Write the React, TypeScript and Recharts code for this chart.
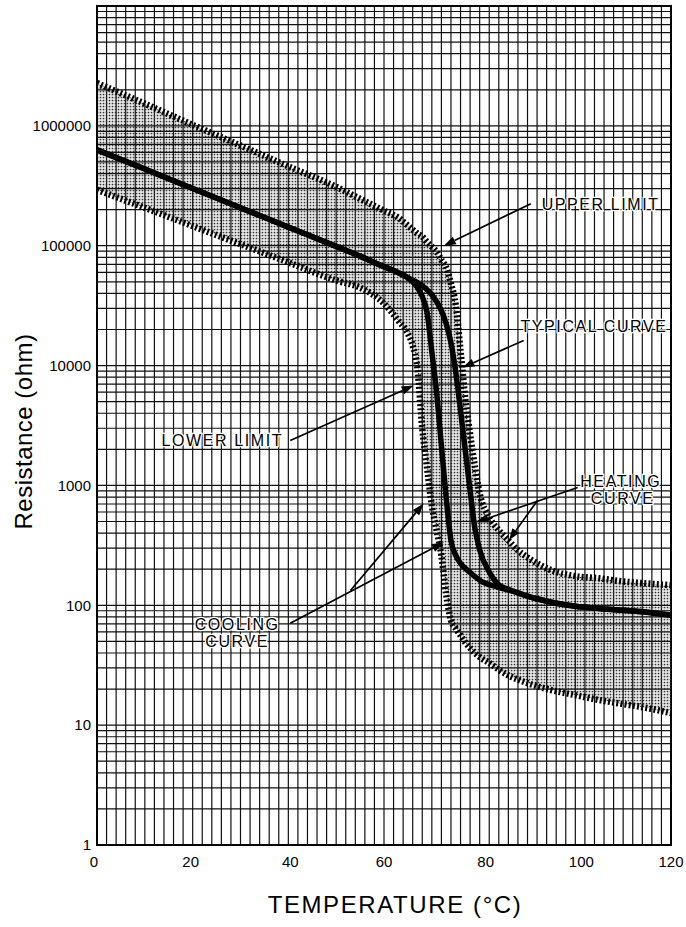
import {
  ComposedChart,
  Area,
  Line,
  XAxis,
  YAxis,
  CartesianGrid,
  ReferenceLine,
  ReferenceDot,
  ReferenceArea,
  Label,
} from "recharts";

// temperature samples (°C) where both limit curves were read
const bandTemps = [
  0, 10, 20, 30, 40, 50, 55, 60, 63, 65, 66, 67, 68, 69, 70, 71, 72, 73, 74,
  75, 76, 77, 78, 79, 80, 82, 84, 86, 88, 90, 95, 100, 105, 110, 115, 120,
];
const upperLimit = [
  2.28e6, 1.53e6, 1.02e6, 6.85e5, 4.59e5, 3.1e5, 2.46e5, 1.96e5, 1.71e5,
  1.47e5, 1.36e5, 1.26e5, 1.19e5, 1.07e5, 9.8e4, 8.9e4, 7.6e4, 6.6e4, 4.8e4,
  3.2e4, 1.33e4, 5300, 2660, 1440, 858, 541, 422, 348, 287, 251, 196, 175, 168,
  158, 152, 147,
];
const lowerLimit = [
  2.93e5, 2.07e5, 1.46e5, 1.03e5, 7.27e4, 5.13e4, 4.47e4, 3.29e4, 2.37e4,
  1.85e4, 1.47e4, 9440, 3000, 1410, 681, 422, 261, 123, 75, 64, 56, 49, 44, 40,
  37, 33, 29, 26, 24, 22.4, 19.6, 17.8, 16.2, 15, 13.9, 12.6,
];

// typical curve: shared part, cooling branch, heating branch, shared tail
const sharedLowT = [0, 10, 20, 30, 40, 50, 55, 60, 63, 65];
const sharedLowR = [6.3e5, 4.36e5, 3.0e5, 2.07e5, 1.43e5, 9.87e4, 8.19e4, 6.68e4, 5.96e4, 5.41e4];
const coolingT = [66, 67, 68, 69, 70, 71, 72, 73, 74, 75, 76, 78, 80, 84];
const coolingR = [5.0e4, 4.47e4, 3.76e4, 2.77e4, 1.3e4, 5960, 2150, 794, 348, 261, 224, 188, 162, 141];
const heatingT = [67, 68, 69, 70, 71, 72, 73, 74, 75, 76, 77, 78, 79, 80, 82, 84, 86];
const heatingR = [
  4.92e4, 4.64e4, 4.3e4, 3.9e4, 3.41e4, 2.87e4, 2.24e4, 1.55e4, 8770, 4220,
  1950, 908, 440, 290, 190, 148, 136,
];
const sharedHighT = [88, 90, 95, 100, 105, 110, 115, 120];
const sharedHighR = [127, 119, 106, 98, 94, 91, 87.5, 82.5];

// axes
const decades = [1, 10, 100, 1000, 10000, 100000, 1000000];
const minorSteps = [1, 2, 3, 4, 5, 6, 7, 8, 9];
const xLabels = [0, 20, 40, 60, 80, 100, 120];
const xLabelShift = [-3, -2, 2, 0, 6, 6, 0];
const xGridStep = 2;

// annotations: text [label, T, R] and arrows [fromT, fromR, toT, toR]
const noteTexts: [string, number, number][] = [
  ["UPPER LIMIT", 105.3, 2.2e5],
  ["TYPICAL CURVE", 103.9, 2.11e4],
  ["LOWER LIMIT", 26.2, 2370],
  ["HEATING", 109.5, 1080],
  ["CURVE", 109.9, 779],
  ["COOLING", 29.3, 69.5],
  ["CURVE", 29.3, 50],
];
const noteArrows: [number, number, number, number][] = [
  [90.7, 2.24e5, 72.5, 1.0e5],
  [89.2, 1.62e4, 76.4, 9620],
  [40.4, 2370, 66.2, 6810],
  [100.5, 962, 79.2, 492],
  [92.1, 750, 86.1, 348],
  [40.4, 70.8, 72.5, 335],
  [53.0, 133, 68.3, 708],
];

const zip = (ts: number[], rs: number[]) => ts.map((t, i) => ({ t, r: rs[i] }));

const bandData = bandTemps.map((t, i) => ({
  t,
  upper: upperLimit[i],
  lower: lowerLimit[i],
}));
const coolingData = [
  ...zip(sharedLowT, sharedLowR),
  ...zip(coolingT, coolingR),
  ...zip(sharedHighT, sharedHighR),
];
const heatingData = [
  ...zip(sharedLowT, sharedLowR),
  ...zip(heatingT, heatingR),
  ...zip(sharedHighT, sharedHighR),
];

const yGrid = [...decades.flatMap((d) => minorSteps.map((m) => m * d)), 1e7];
const xGrid = Array.from({ length: 120 / xGridStep + 1 }, (_, i) => i * xGridStep);

const FONT = "'Liberation Sans', Arial, Helvetica, sans-serif";

const XTick = (props: any) => {
  const { x, y, payload } = props;
  const idx = xLabels.indexOf(payload.value);
  if (idx < 0) return null;
  return (
    <text
      x={x + xLabelShift[idx]}
      y={y}
      dy="0.71em"
      textAnchor="middle"
      fontFamily={FONT}
      fontSize={15}
      fill="#000"
    >
      {payload.value}
    </text>
  );
};

const Arrow = (props: any) => {
  const { x1, y1, x2, y2 } = props;
  const a = Math.atan2(y2 - y1, x2 - x1);
  const len = 12;
  const w = 4.2;
  const bx = x2 - len * Math.cos(a);
  const by = y2 - len * Math.sin(a);
  const p1 = `${x2},${y2}`;
  const p2 = `${bx + w * Math.sin(a)},${by - w * Math.cos(a)}`;
  const p3 = `${bx - w * Math.sin(a)},${by + w * Math.cos(a)}`;
  return (
    <g>
      <line x1={x1} y1={y1} x2={bx} y2={by} stroke="#000" strokeWidth={1.7} />
      <polygon points={`${p1} ${p2} ${p3}`} fill="#000" />
    </g>
  );
};

const noteShape = (text: string) => (p: any) => (
  <text
    x={p.cx}
    y={p.cy}
    textAnchor="middle"
    dominantBaseline="central"
    fontFamily={FONT}
    fontSize={16}
    letterSpacing={1.6}
    fill="#000"
    stroke="#fff"
    strokeWidth={2.5}
    paintOrder="stroke"
  >
    {text}
  </text>
);

export default function App() {
  return (
    <div style={{ position: "absolute", left: 0, top: 0, background: "#fff" }}>
      <ComposedChart
        width={686}
        height={927}
        data={bandData}
        margin={{ top: 6, right: 15, bottom: 0, left: 0 }}
      >
        <defs>
          <pattern id="stipple" width="3" height="3" patternUnits="userSpaceOnUse">
            <rect width="3" height="3" fill="#000" fillOpacity={0.1} />
            <circle cx="1.5" cy="1.5" r="0.85" fill="#333" />
          </pattern>
        </defs>
        <CartesianGrid stroke="#111" strokeWidth={1.2} />
        <XAxis
          type="number"
          dataKey="t"
          domain={[0, 120]}
          ticks={xGrid}
          interval={0}
          tickSize={0}
          tickMargin={11}
          height={82}
          axisLine={{ stroke: "#000", strokeWidth: 2 }}
          tick={<XTick />}
        >
          <Label
            content={(p: any) => (
              <text
                x={p.viewBox.x + p.viewBox.width / 2 + 11}
                y={p.viewBox.y + 68}
                textAnchor="middle"
                fontFamily={FONT}
                fontSize={24}
                letterSpacing={1.6}
                fill="#000"
              >
                TEMPERATURE (°C)
              </text>
            )}
          />
        </XAxis>
        <YAxis
          type="number"
          scale="log"
          domain={[1, 1e7]}
          allowDataOverflow
          ticks={yGrid}
          interval={0}
          tickFormatter={(v: number) => (decades.includes(v) ? String(v) : "")}
          tickSize={0}
          tickMargin={6}
          width={97}
          axisLine={{ stroke: "#000", strokeWidth: 2 }}
          tick={{ fill: "#000", fontSize: 15, fontFamily: FONT }}
        >
          <Label
            content={(p: any) => (
              <text
                x={32}
                y={p.viewBox.y + p.viewBox.height / 2 + 6}
                transform={`rotate(-90 32 ${p.viewBox.y + p.viewBox.height / 2 + 6})`}
                textAnchor="middle"
                fontFamily={FONT}
                fontSize={24}
                letterSpacing={0.5}
                fill="#000"
              >
                Resistance (ohm)
              </text>
            )}
          />
        </YAxis>
        <ReferenceArea x1={0} x2={120} y1={1} y2={1e7} fill="none" stroke="#000" strokeWidth={2} />
        <Area
          type="monotone"
          dataKey={(d: any) => [d.lower, d.upper]}
          stroke="none"
          fill="url(#stipple)"
          fillOpacity={1}
          isAnimationActive={false}
        />
        <Line
          type="monotone"
          dataKey="upper"
          stroke="#000"
          strokeWidth={6.5}
          strokeDasharray="2 2.2"
          dot={false}
          isAnimationActive={false}
        />
        <Line
          type="monotone"
          dataKey="lower"
          stroke="#000"
          strokeWidth={6.5}
          strokeDasharray="2 2.2"
          dot={false}
          isAnimationActive={false}
        />
        <Line
          data={coolingData}
          type="monotone"
          dataKey="r"
          stroke="#000"
          strokeWidth={5.5}
          dot={false}
          isAnimationActive={false}
        />
        <Line
          data={heatingData}
          type="monotone"
          dataKey="r"
          stroke="#000"
          strokeWidth={5.5}
          dot={false}
          isAnimationActive={false}
        />
        {noteArrows.map(([t1, r1, t2, r2], i) => (
          <ReferenceLine
            key={`a${i}`}
            segment={[
              { x: t1, y: r1 },
              { x: t2, y: r2 },
            ]}
            shape={Arrow}
          />
        ))}
        {noteTexts.map(([text, t, r], i) => (
          <ReferenceDot key={`n${i}`} x={t} y={r} r={0} shape={noteShape(text)} />
        ))}
      </ComposedChart>
    </div>
  );
}
